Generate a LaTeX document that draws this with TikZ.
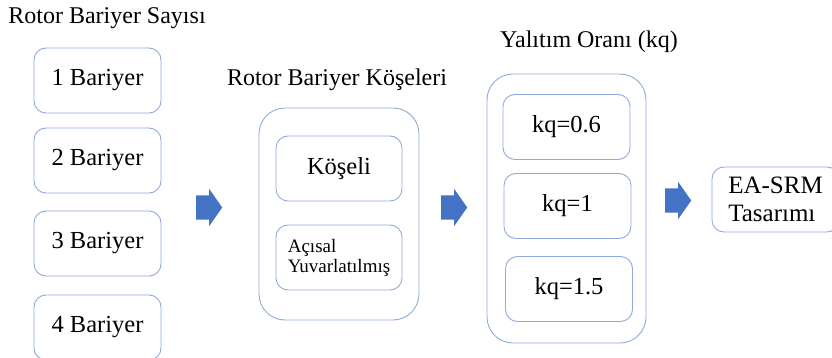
\documentclass[tikz,border=0pt]{standalone}
\usepackage{fontspec}
\setmainfont{Liberation Serif}
\newfontfamily\myserif{Liberation Serif}
\usetikzlibrary{shapes.arrows}
\definecolor{myedge}{HTML}{8FAADC}
\definecolor{myarrow}{HTML}{4472C4}
\tikzset{
  smallbox/.style={draw=myedge, line width=0.9pt, rounded corners=12pt,
    minimum width=127pt, minimum height=65pt, inner sep=0pt,
    font=\myserif\fontsize{24.5}{28}\selectfont},
  groupbox/.style={draw=myedge, line width=0.9pt, rounded corners=26pt, inner sep=0pt},
  grouptitle/.style={font=\myserif\fontsize{24}{28}\selectfont, inner sep=0pt},
  bluearrow/.style={single arrow, fill=myarrow, draw=none, inner xsep=0pt, inner ysep=12pt,
    minimum height=26pt, single arrow head extend=6.5pt,
    single arrow tip angle=110, anchor=west}
}
\begin{document}
\begin{tikzpicture}[x=1pt,y=-1pt]
 \useasboundingbox (0,0) rectangle (832,358);

 % rotor bariyer sayisi
 \node[grouptitle] (t1) at (107,18) {Rotor Bariyer Sayısı};
 \foreach \i/\y in {1/80.5, 2/160.5, 3/243.5, 4/327.5}
   \node[smallbox] (b\i) at (97.5,\y) {\i\ Bariyer};

 \node[bluearrow] (a1) at (196,207.5) {};

 % rotor bariyer koseleri
 \node[grouptitle] (t2) at (337,80) {Rotor Bariyer Köşeleri};
 \node[groupbox, minimum width=160pt, minimum height=212pt] (g2) at (339,214) {};
 \node[smallbox, minimum width=126pt] (k1) at (339,168.5) {Köşeli};
 \node[smallbox, minimum width=126pt, align=left, font=\myserif\fontsize{19}{20}\selectfont] (k2) at (339,257.5)
   {Açısal\\Yuvarlatılmış};

 \node[bluearrow] (a2) at (441,207.5) {};

 % yalitim orani
 \node[grouptitle] (t3) at (589,42) {Yalıtım Oranı (kq)};
 \node[groupbox, minimum width=159pt, minimum height=269pt] (g3) at (566.5,208.5) {};
 \node[smallbox] (q1) at (566.5,127) {kq=0.6};
 \node[smallbox] (q2) at (567.5,206) {kq=1};
 \node[smallbox] (q3) at (569,289) {kq=1.5};

 \node[bluearrow] (a3) at (665,200.5) {};

 \node[smallbox, align=left, font=\myserif\fontsize{25}{28}\selectfont] (ea) at (775.5,199.5)
   {EA-SRM\\Tasarımı};

\end{tikzpicture}
\end{document}
